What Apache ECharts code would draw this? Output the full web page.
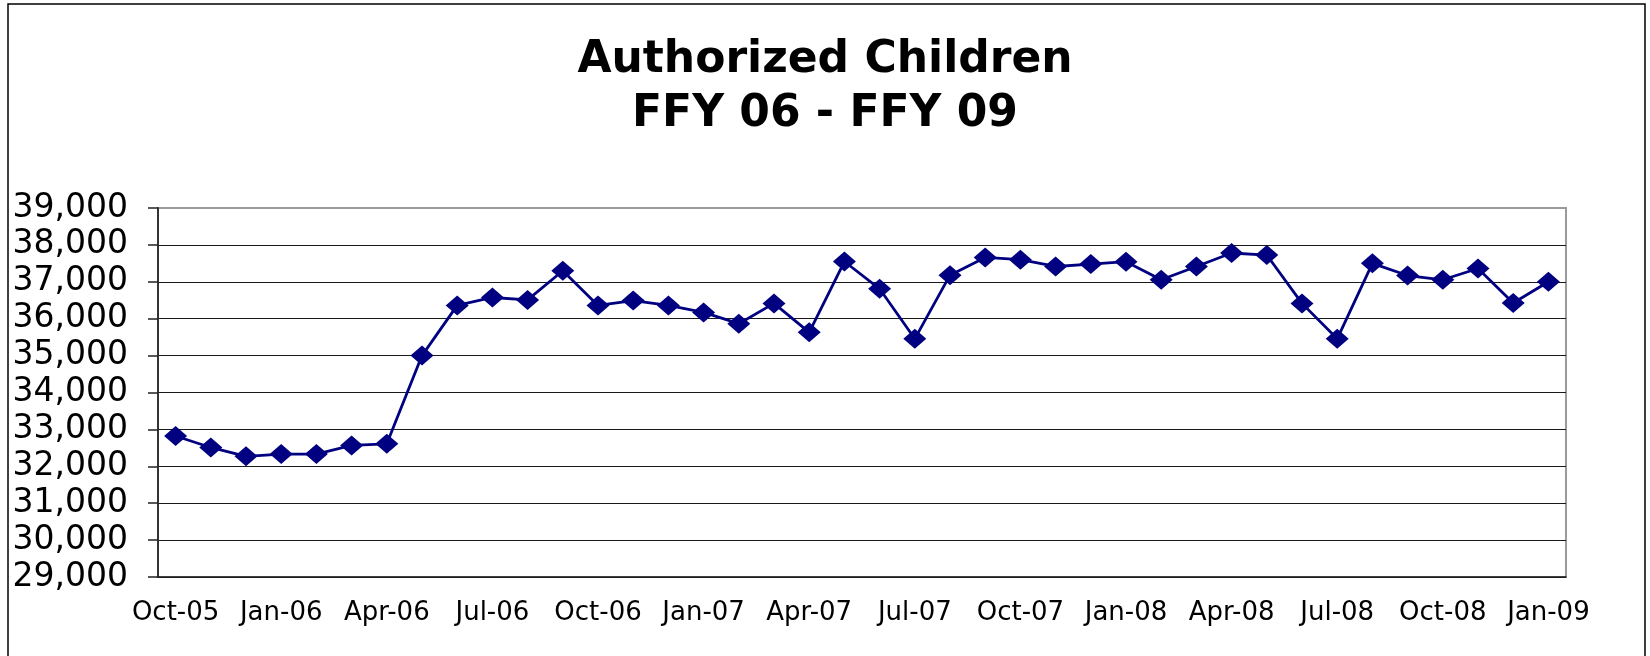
<!DOCTYPE html>
<html>
<head>
<meta charset="utf-8">
<title>Authorized Children</title>
<script src="https://cdn.jsdelivr.net/npm/echarts@6/dist/echarts.min.js"></script>
<style>
  html, body { margin: 0; padding: 0; background: #fff; }
  #chart { width: 1650px; height: 656px; }
</style>
</head>
<body>
<div id="chart"></div>
<script>
// months (x axis categories)
var months = [
  'Oct-05', 'Nov-05', 'Dec-05', 'Jan-06', 'Feb-06', 'Mar-06', 'Apr-06', 'May-06',
  'Jun-06', 'Jul-06', 'Aug-06', 'Sep-06', 'Oct-06', 'Nov-06', 'Dec-06', 'Jan-07',
  'Feb-07', 'Mar-07', 'Apr-07', 'May-07', 'Jun-07', 'Jul-07', 'Aug-07', 'Sep-07',
  'Oct-07', 'Nov-07', 'Dec-07', 'Jan-08', 'Feb-08', 'Mar-08', 'Apr-08', 'May-08',
  'Jun-08', 'Jul-08', 'Aug-08', 'Sep-08', 'Oct-08', 'Nov-08', 'Dec-08', 'Jan-09'
];
// authorized children per month
var children = [
  32820, 32510, 32270, 32330, 32330, 32565, 32610, 35000,
  36360, 36575, 36510, 37300, 36360, 36490, 36360, 36170,
  35865, 36415, 35630, 37550, 36810, 35455, 37180, 37660,
  37600, 37415, 37480, 37545, 37055, 37415, 37780, 37725,
  36415, 35455, 37500, 37170, 37055, 37360, 36425, 37000
];
// y axis ticks
var yTicks = [29000, 30000, 31000, 32000, 33000, 34000, 35000, 36000, 37000, 38000, 39000];

var font = 'DejaVu Sans';
var chart = echarts.init(document.getElementById('chart'));
var option = {
  backgroundColor: '#fff',
  animation: false,
  title: {
    text: 'Authorized Children\nFFY 06 - FFY 09',
    left: 'center',
    top: 34,
    padding: 0,
    textStyle: {
      fontFamily: font,
      fontSize: 44,
      fontWeight: 'bold',
      color: '#000',
      lineHeight: 54
    }
  },
  graphic: [{
    type: 'rect',
    z: -1,
    shape: { x: 8, y: 4, width: 1637, height: 700 },
    style: { fill: 'none', stroke: '#000', lineWidth: 1.5 }
  }],
  grid: {
    left: 158,
    right: 84,
    top: 208,
    bottom: 79,
    show: true,
    borderColor: '#9a9a9a',
    borderWidth: 2,
    outerBoundsMode: 'none'
  },
  xAxis: {
    type: 'category',
    data: months,
    boundaryGap: true,
    axisLine: { lineStyle: { color: '#222', width: 1.5 } },
    axisTick: { interval: 2, length: 7, lineStyle: { color: '#222', width: 1.5 } },
    axisLabel: {
      interval: 2,
      margin: 23,
      fontFamily: font,
      fontSize: 26,
      color: '#000'
    },
    splitLine: { show: false }
  },
  yAxis: {
    type: 'value',
    min: yTicks[0],
    max: yTicks[yTicks.length - 1],
    interval: yTicks[1] - yTicks[0],
    axisLine: { show: true, lineStyle: { color: '#333', width: 2 } },
    axisTick: { show: true, length: 10, lineStyle: { color: '#222', width: 1.5 } },
    axisLabel: {
      margin: 30,
      padding: [7, 0, 0, 0],
      fontFamily: font,
      fontSize: 33,
      color: '#000',
      formatter: function (v) { return v.toLocaleString('en-US'); }
    },
    splitLine: {
      show: true,
      showMaxLine: false,
      lineStyle: { color: '#1a1a1a', width: 1.2 }
    }
  },
  series: [{
    type: 'line',
    data: children,
    symbol: 'diamond',
    symbolSize: [23, 20],
    lineStyle: { color: '#000080', width: 2.8 },
    itemStyle: { color: '#000080' }
  }]
};
chart.setOption(option, true);
</script>
</body>
</html>
